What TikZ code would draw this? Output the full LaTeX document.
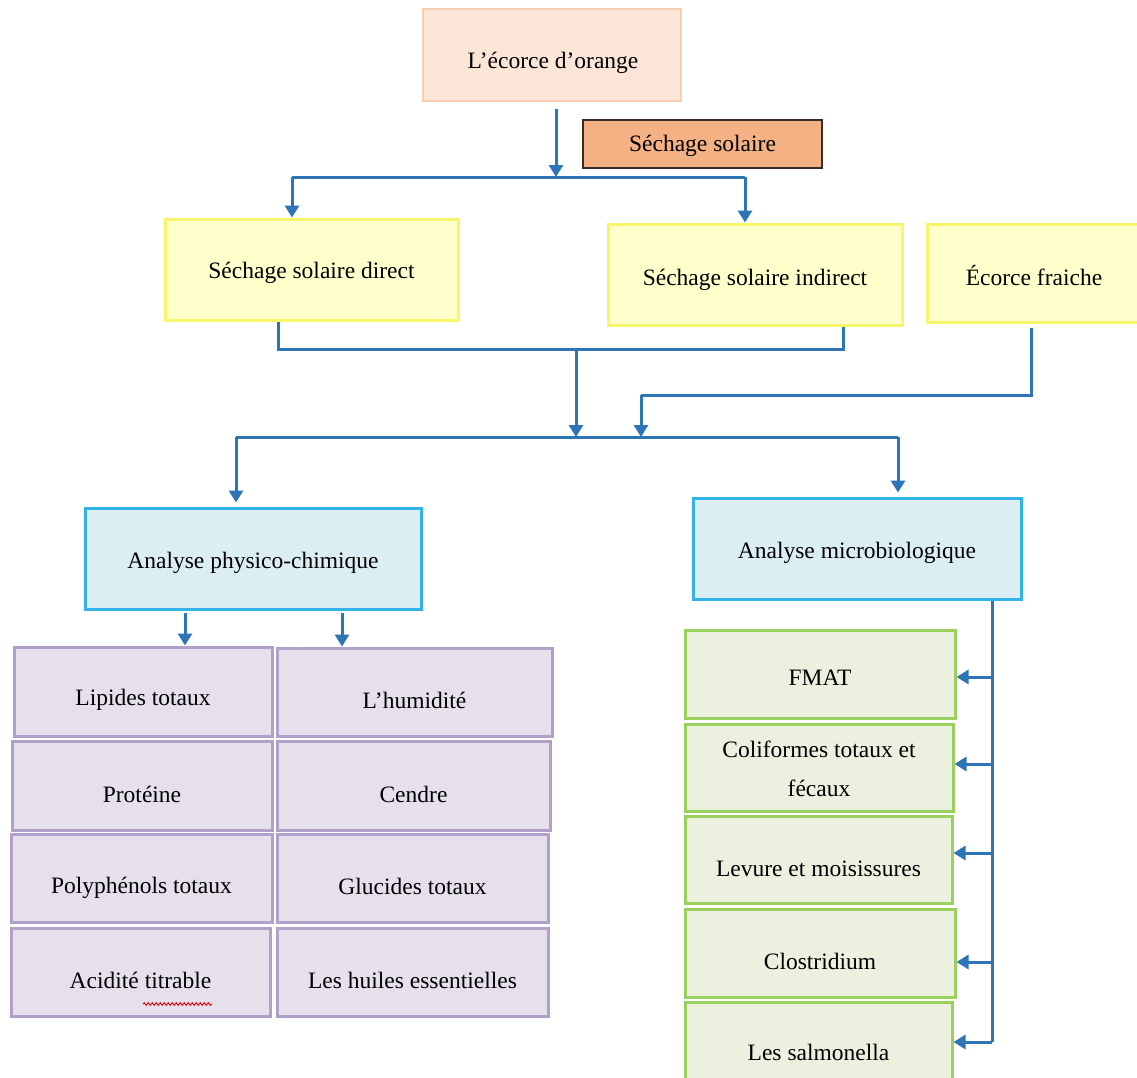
\documentclass[tikz,border=0pt]{standalone}
\usepackage{fontspec}
\setmainfont{Liberation Serif}
\usetikzlibrary{arrows.meta,decorations.pathmorphing}
\definecolor{peachfill}{HTML}{FBE5D6}
\definecolor{peachdraw}{HTML}{F6CDB0}
\definecolor{orfill}{HTML}{F4B183}
\definecolor{ordraw}{HTML}{3A2A22}
\definecolor{yelfill}{HTML}{FFFFCC}
\definecolor{yeldraw}{HTML}{F7F56A}
\definecolor{bluefill}{HTML}{DBEEF4}
\definecolor{bluedraw}{HTML}{33B4E8}
\definecolor{purfill}{HTML}{E5E0EC}
\definecolor{purdraw}{HTML}{B1A0C7}
\definecolor{grnfill}{HTML}{EBF1DE}
\definecolor{grndraw}{HTML}{9BCF5E}
\definecolor{arrowblue}{HTML}{2E75B6}
\tikzset{
  box/.style={inner sep=0pt},
  txt/.style={inner sep=0pt, align=center, font=\fontsize{23.5}{39}\selectfont},
  peachbox/.style={box, fill=peachfill, draw=peachdraw, line width=2pt},
  orbox/.style={box, fill=orfill, draw=ordraw, line width=2pt},
  yelbox/.style={box, fill=yelfill, draw=yeldraw, line width=3pt},
  bluebox/.style={box, fill=bluefill, draw=bluedraw, line width=3pt},
  purbox/.style={box, fill=purfill, draw=purdraw, line width=3pt},
  grnbox/.style={box, fill=grnfill, draw=grndraw, line width=3pt},
  conn/.style={draw=arrowblue, line width=3pt},
  arr/.style={conn, -{Triangle[width=14pt,length=12pt]}},
}
% name, style, x1, y1, x2, y2, dx, dy, text
\newcommand{\bx}[9]{%
  \node[#2, minimum width={#5-#3}, minimum height={#6-#4}] (#1) at ({(#3+#5)/2},{(#4+#6)/2}) {};
  \node[txt] (#1-t) at ({(#3+#5)/2+#7},{(#4+#6)/2+#8}) {#9};}
\begin{document}
\begin{tikzpicture}[x=1pt,y=-1pt]
\useasboundingbox (0,0) rectangle (1137,1077);
% top
\bx{ecorce}{peachbox}{423}{9}{681}{101}{1}{8}{L’écorce d’orange}
\bx{sech}{orbox}{583}{120}{822}{168}{0}{2}{Séchage solaire}
\bx{direct}{yelbox}{165}{219}{458}{320}{0}{3}{Séchage solaire direct}
\bx{indirect}{yelbox}{608}{224}{902}{325}{0}{5}{Séchage solaire indirect}
\bx{fraiche}{yelbox}{927}{224}{1141}{322}{0}{3}{Écorce fraiche}
\bx{physico}{bluebox}{85}{508}{421}{609}{0}{4}{Analyse physico-chimique}
\bx{micro}{bluebox}{693}{498}{1021}{599}{0}{4}{Analyse microbiologique}
% purple grid
\bx{lip}{purbox}{14}{647}{272}{736}{0}{8}{Lipides totaux}
\bx{hum}{purbox}{277}{648}{552}{736}{0}{8}{L’humidité}
\bx{prot}{purbox}{12}{741}{272}{830}{0}{9}{Protéine}
\bx{cend}{purbox}{277}{741}{550}{830}{0}{9}{Cendre}
\bx{poly}{purbox}{11}{834}{272}{922}{0}{10}{Polyphénols totaux}
\bx{gluc}{purbox}{277}{834}{548}{922}{0}{8}{Glucides totaux}
\bx{acid}{purbox}{11}{928}{270}{1016}{0}{8}{Acidité titrable}
\bx{huile}{purbox}{277}{928}{548}{1016}{0}{8}{Les huiles essentielles}
% green column
\bx{fmat}{grnbox}{685}{630}{955}{718}{0}{4}{FMAT}
\bx{colif}{grnbox}{685}{724}{953}{811}{0}{1}{Coliformes totaux et\\fécaux}
\bx{levure}{grnbox}{685}{816}{952}{903}{0}{9}{Levure et moisissures}
\bx{clost}{grnbox}{685}{909}{955}{997}{0}{8}{Clostridium}
\bx{salmo}{grnbox}{685}{1002}{952}{1090}{0}{6}{Les salmonella}
% spell-check underline
\coordinate (u1) at (143,1004);
\coordinate (u2) at (212,1004);
\draw[red!85!black, line width=0.9pt, decorate, decoration={snake, amplitude=1.3pt, segment length=4pt}] (u1) -- (u2);
% connectors top
\coordinate (j1) at (556,177);
\coordinate (jl) at (292,177);
\coordinate (jr) at (745,177);
\draw[arr] (ecorce.south -| j1) ++(0,7) -- (j1);
\draw[conn] (jl) -- (jr);
\draw[arr] (jl) -- (jl |- direct.north);
\draw[arr] (jr) -- (jr |- indirect.north);
% merge
\coordinate (m1) at (278,349);
\coordinate (m2) at (843,349);
\coordinate (mc) at (576,349);
\coordinate (b1) at (576,437);
\draw[conn] (m1 |- direct.south) -- (m1) -- (m2) -- (m2 |- indirect.south);
\draw[arr] (mc) -- (b1);
\coordinate (f1) at (1031,395);
\coordinate (f2) at (641,395);
\coordinate (f3) at (641,437);
\draw[conn] (f1 |- fraiche.south) ++(0,4) -- (f1) -- (f2);
\draw[arr] (f2) -- (f3);
\coordinate (bl) at (236,437);
\coordinate (br) at (898,437);
\draw[conn] (bl) -- (br);
\draw[arr] (bl) -- ([yshift=4pt]bl |- physico.north);
\draw[arr] (br) -- ([yshift=4pt]br |- micro.north);
% physico arrows
\coordinate (p1) at (185,613);
\coordinate (p2) at (342,613);
\draw[arr] (p1) -- (p1 |- lip.north);
\draw[arr] (p2) -- (p2 |- hum.north);
% micro arrows
\coordinate (r0) at (992,599);
\coordinate (r1) at (992,677);
\coordinate (r2) at (992,764);
\coordinate (r3) at (992,853);
\coordinate (r4) at (992,962);
\coordinate (r5) at (992,1042);
\draw[conn] (r0 |- micro.south) -- (r5);
\draw[arr] (r1) -- (r1 -| fmat.east);
\draw[arr] (r2) -- (r2 -| colif.east);
\draw[arr] (r3) -- (r3 -| levure.east);
\draw[arr] (r4) -- (r4 -| clost.east);
\draw[arr] (r5) -- (r5 -| salmo.east);
\end{tikzpicture}
\end{document}
